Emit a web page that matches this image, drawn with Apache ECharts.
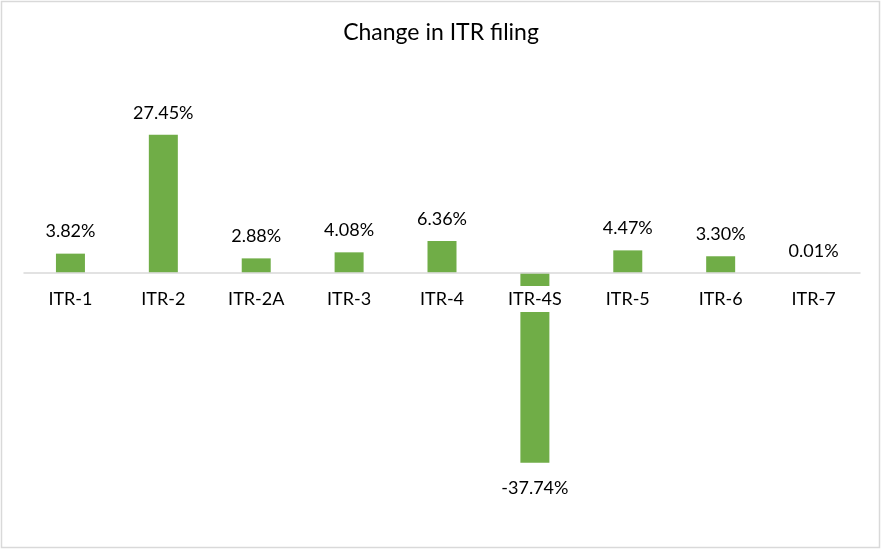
<!DOCTYPE html>
<html>
<head>
<meta charset="utf-8">
<script src="https://cdn.jsdelivr.net/npm/echarts@6/dist/echarts.min.js"></script>
<style>
html,body{margin:0;padding:0;background:#fff;}
#chart{width:882px;height:550px;}
</style>
</head>
<body>
<div id="chart"></div>
<script>
const categories = ['ITR-1','ITR-2','ITR-2A','ITR-3','ITR-4','ITR-4S','ITR-5','ITR-6','ITR-7'];
const changePct = [3.82, 27.45, 2.88, 4.08, 6.36, -37.74, 4.47, 3.30, 0.01];

const FONT = 'Lato';
const chart = echarts.init(document.getElementById('chart'));
chart.setOption({
  animation: false,
  backgroundColor: '#fff',
  title: {
    text: 'Change in ITR filing',
    left: 'center',
    top: 16,
    textStyle: {fontFamily: FONT, fontSize: 23, fontWeight: 'normal', color: '#000'}
  },
  graphic: [{
    type: 'rect',
    shape: {x: 1.5, y: 1.5, width: 878, height: 546},
    style: {fill: 'none', stroke: '#d9d9d9', lineWidth: 1.5},
    silent: true
  }],
  grid: {left: 24, right: 22, top: 122, bottom: 76},
  xAxis: {
    type: 'category',
    data: categories,
    z: 5,
    position: 'bottom',
    offset: -201,
    axisLine: {show: true, onZero: false, lineStyle: {color: '#d9d9d9', width: 1.5}},
    axisTick: {show: false},
    axisLabel: {
      fontFamily: FONT, fontSize: 18, color: '#000', lineHeight: 18,
      backgroundColor: '#fff', padding: [4, 3, 4, 3], margin: 13
    }
  },
  yAxis: {
    type: 'value', min: -40, max: 30, show: false,
    splitLine: {show: false}
  },
  series: [{
    type: 'bar',
    barWidth: 29,
    itemStyle: {color: '#70ad47'},
    label: {
      show: true,
      distance: 13,
      fontFamily: FONT, fontSize: 18, color: '#000',
      formatter: p => p.value.toFixed(2) + '%'
    },
    data: changePct.map(v => ({value: v, label: v < 0 ? {position: 'bottom', distance: 17} : {position: 'top'}}))
  }]
});
</script>
</body>
</html>
